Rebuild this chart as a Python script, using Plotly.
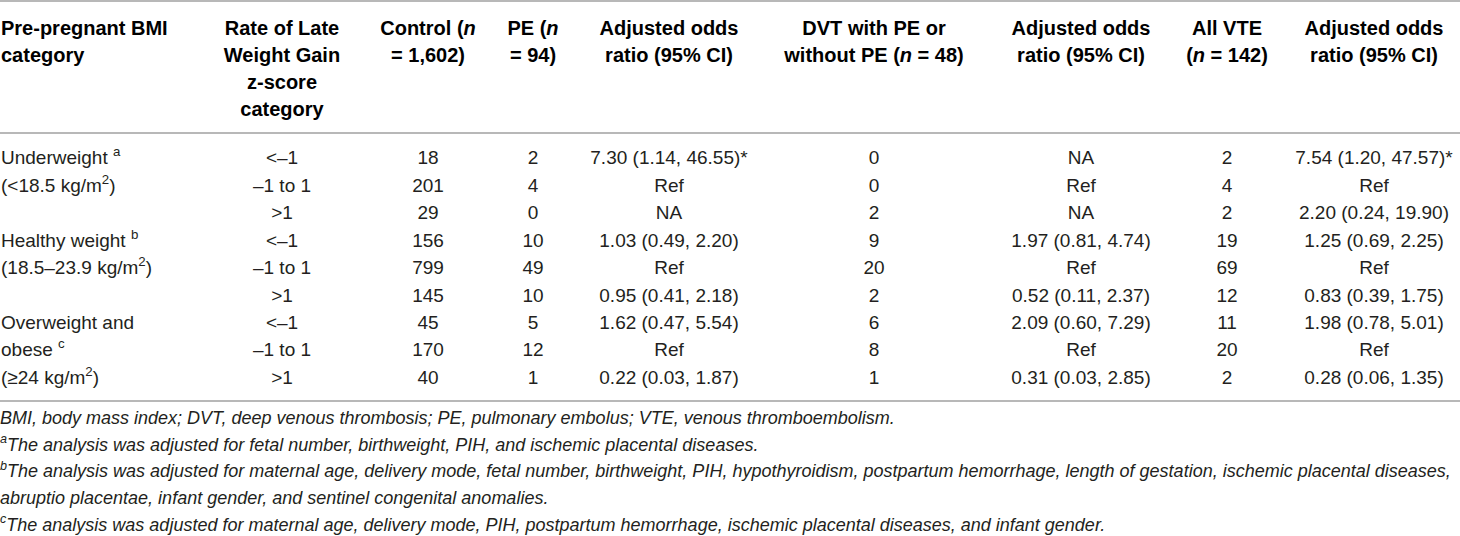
import plotly.graph_objects as go

# ---- table content ----
header_lines = [
    ["Pre-pregnant BMI", "category"],
    ["Rate of Late", "Weight Gain", "z-score", "category"],
    ["Control (<i>n</i>", "= 1,602)"],
    ["PE (<i>n</i>", "= 94)"],
    ["Adjusted odds", "ratio (95% CI)"],
    ["DVT with PE or", "without PE (<i>n</i> = 48)"],
    ["Adjusted odds", "ratio (95% CI)"],
    ["All VTE", "(<i>n</i> = 142)"],
    ["Adjusted odds", "ratio (95% CI)"],
]

bmi_category = [
    "Underweight <sup>a</sup>", "(&lt;18.5 kg/m<sup>2</sup>)", "",
    "Healthy weight <sup>b</sup>", "(18.5–23.9 kg/m<sup>2</sup>)", "",
    "Overweight and", "obese <sup>c</sup>", "(≥24 kg/m<sup>2</sup>)",
]
zscore_category = ["&lt;–1", "–1 to 1", "&gt;1"] * 3
control = [18, 201, 29, 156, 799, 145, 45, 170, 40]
pe = [2, 4, 0, 10, 49, 10, 5, 12, 1]
pe_or = ["7.30 (1.14, 46.55)*", "Ref", "NA",
         "1.03 (0.49, 2.20)", "Ref", "0.95 (0.41, 2.18)",
         "1.62 (0.47, 5.54)", "Ref", "0.22 (0.03, 1.87)"]
dvt = [0, 0, 2, 9, 20, 2, 6, 8, 1]
dvt_or = ["NA", "Ref", "NA",
          "1.97 (0.81, 4.74)", "Ref", "0.52 (0.11, 2.37)",
          "2.09 (0.60, 7.29)", "Ref", "0.31 (0.03, 2.85)"]
vte = [2, 4, 2, 19, 69, 12, 11, 20, 2]
vte_or = ["7.54 (1.20, 47.57)*", "Ref", "2.20 (0.24, 19.90)",
          "1.25 (0.69, 2.25)", "Ref", "0.83 (0.39, 1.75)",
          "1.98 (0.78, 5.01)", "Ref", "0.28 (0.06, 1.35)"]

footnotes = [
    "BMI, body mass index; DVT, deep venous thrombosis; PE, pulmonary embolus; VTE, venous thromboembolism.",
    "<sup>a</sup>The analysis was adjusted for fetal number, birthweight, PIH, and ischemic placental diseases.",
    "<sup>b</sup>The analysis was adjusted for maternal age, delivery mode, fetal number, birthweight, PIH, hypothyroidism, postpartum hemorrhage, length of gestation, ischemic placental diseases,",
    "abruptio placentae, infant gender, and sentinel congenital anomalies.",
    "<sup>c</sup>The analysis was adjusted for maternal age, delivery mode, PIH, postpartum hemorrhage, ischemic placental diseases, and infant gender.",
]

columns = [bmi_category, zscore_category, control, pe, pe_or, dvt, dvt_or, vte, vte_or]

# ---- layout (pixel-like axis units, y grows downward) ----
W, H = 1460, 536
col_x = [1, 282, 428, 533, 669, 874, 1081, 1227, 1374]
header_y0, header_step = 29.5, 27
row_y0, row_step = 159.5, 27.45
foot_y0, foot_step = 419.5, 26.7
rules_y = [1, 133, 401]

FONT = "Liberation Sans, Arial, Helvetica, sans-serif"
TEXT = "#231f20"

fig = go.Figure()

for c, lines in enumerate(header_lines):
    fig.add_trace(go.Scatter(
        x=[col_x[c]] * len(lines),
        y=[header_y0 + header_step * k for k in range(len(lines))],
        text=[f"<b>{s}</b>" for s in lines],
        mode="text",
        textposition="middle right" if c == 0 else "middle center",
        textfont=dict(family=FONT, size=20, color="#000000"),
        hoverinfo="skip", showlegend=False,
    ))

for c, vals in enumerate(columns):
    rows = [i for i, v in enumerate(vals) if str(v) != ""]
    fig.add_trace(go.Scatter(
        x=[col_x[c]] * len(rows),
        y=[row_y0 + row_step * i for i in rows],
        text=[str(vals[i]) for i in rows],
        mode="text",
        textposition="middle right" if c == 0 else "middle center",
        textfont=dict(family=FONT, size=19, color=TEXT),
        hoverinfo="skip", showlegend=False,
    ))

fig.add_trace(go.Scatter(
    x=[0] * len(footnotes),
    y=[foot_y0 + foot_step * k for k in range(len(footnotes))],
    text=[f"<i>{s}</i>" for s in footnotes],
    mode="text",
    textposition="middle right",
    textfont=dict(family=FONT, size=18, color=TEXT),
    hoverinfo="skip", showlegend=False,
))

for y in rules_y:
    fig.add_shape(type="line", xref="paper", yref="y", x0=0, x1=1, y0=y, y1=y,
                  line=dict(color="#b8b8b8", width=2))

fig.update_layout(
    width=W, height=H,
    margin=dict(l=0, r=0, t=0, b=0),
    paper_bgcolor="white", plot_bgcolor="white",
    xaxis=dict(range=[0, W], visible=False, fixedrange=True),
    yaxis=dict(range=[H, 0], visible=False, fixedrange=True),
)

fig.write_html("out.html", config={"displayModeBar": False},
               post_script="document.body.style.margin='0';document.body.style.overflow='hidden';")
